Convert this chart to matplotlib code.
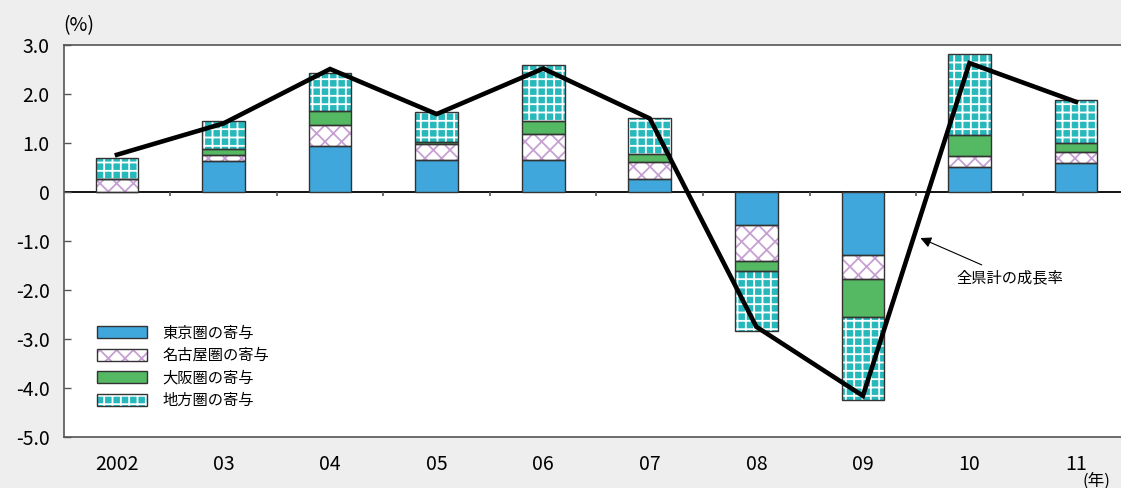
import matplotlib
matplotlib.use("Agg")
import matplotlib.pyplot as plt
from matplotlib.patches import Patch
from matplotlib.legend_handler import HandlerTuple
import numpy as np

plt.rcParams['font.family'] = ['Noto Sans CJK JP', 'DejaVu Sans']
plt.rcParams['hatch.linewidth'] = 1.3

years = ["2002", "03", "04", "05", "06", "07", "08", "09", "10", "11"]

# contributions by region (percentage points)
tokyo = [0.00, 0.63, 0.93, 0.65, 0.65, 0.27, -0.67, -1.29, 0.50, 0.59]
nagoya = [0.26, 0.12, 0.43, 0.32, 0.53, 0.34, -0.74, -0.49, 0.23, 0.23]
osaka = [0.00, 0.13, 0.29, 0.06, 0.26, 0.17, -0.20, -0.77, 0.44, 0.19]
chiho = [0.44, 0.57, 0.78, 0.60, 1.15, 0.72, -1.22, -1.69, 1.64, 0.86]

# total growth rate of all prefectures
total = [0.76, 1.40, 2.51, 1.59, 2.52, 1.50, -2.75, -4.16, 2.63, 1.84]

labels = ["東京圏の寄与", "名古屋圏の寄与", "大阪圏の寄与", "地方圏の寄与"]

BG = "#eeeeee"
EDGE = "#333333"
styles = [
    dict(facecolor="#3fa7dc", edgecolor="#3fa7dc", hatch=None),
    dict(facecolor="white", edgecolor="#c7a0d3", hatch="xx"),
    dict(facecolor="#55b862", edgecolor="#55b862", hatch=None),
    dict(facecolor="#27b8bc", edgecolor="white", hatch="++"),
]

fig = plt.figure(figsize=(11.21, 4.88), dpi=100, facecolor=BG)
ax = fig.add_axes([0.0568, 0.1045, 0.9506, 0.8033])
ax.set_facecolor("white")

x = np.arange(len(years))
width = 0.40
bottom = np.zeros(len(years))
handles = []
for vals, st, lab in zip([tokyo, nagoya, osaka, chiho], styles, labels):
    vals = np.array(vals)
    ax.bar(x, vals, width, bottom=bottom, facecolor=st["facecolor"],
           edgecolor=st["edgecolor"], hatch=st["hatch"], linewidth=0, zorder=2)
    ax.bar(x, vals, width, bottom=bottom, facecolor="none",
           edgecolor=EDGE, linewidth=1.0, zorder=3)
    bottom = bottom + vals
    h1 = Patch(facecolor=st["facecolor"], edgecolor=st["edgecolor"],
               hatch=st["hatch"], linewidth=0)
    h2 = Patch(facecolor="none", edgecolor=EDGE, linewidth=1.0)
    handles.append((h1, h2))

ax.plot(x, total, color="black", linewidth=3.3, solid_joinstyle="miter", zorder=4)

# zero line and category separators
ax.axhline(0, color="black", linewidth=1.3, zorder=1)
ax.vlines(x[:-1] + 0.5, -0.09, 0, color="#555555", linewidth=1.2, zorder=1)

ax.annotate("全県計の成長率", xy=(7.54, -0.94), xytext=(7.88, -1.74),
            fontsize=11, ha="left", va="center",
            arrowprops=dict(arrowstyle="-|>", color="black", lw=0.8,
                            mutation_scale=16, shrinkA=2, shrinkB=0))

ax.set_xlim(-0.5, 9.5)
ax.set_ylim(-5, 3)
ax.set_xticks(x)
ax.set_xticklabels(years, fontsize=14)
ax.tick_params(axis="x", length=0, pad=12)
yt = [3, 2, 1, 0, -1, -2, -3, -4, -5]
ax.set_yticks(yt)
ax.set_yticklabels(["3.0", "2.0", "1.0", "0", "-1.0", "-2.0", "-3.0", "-4.0", "-5.0"],
                   fontsize=14)
ax.tick_params(axis="y", direction="in", length=5, width=1, color="#555555", pad=10)

for s in ["left", "top", "bottom"]:
    ax.spines[s].set_color("#555555")
    ax.spines[s].set_linewidth(1.2)
ax.spines["right"].set_visible(False)

ax.legend(handles, labels, loc="upper left", bbox_to_anchor=(0.018, 0.322),
          frameon=False, fontsize=11, handlelength=3.3, handleheight=0.8,
          labelspacing=0.36, handletextpad=1.0,
          handler_map={tuple: HandlerTuple(ndivide=1)})

fig.text(0.0705, 0.948, "(%)", fontsize=14, ha="center", va="center")
fig.text(0.978, 0.014, "(年)", fontsize=12, ha="center", va="center")

fig.savefig("out.png", dpi=100, facecolor=BG)
